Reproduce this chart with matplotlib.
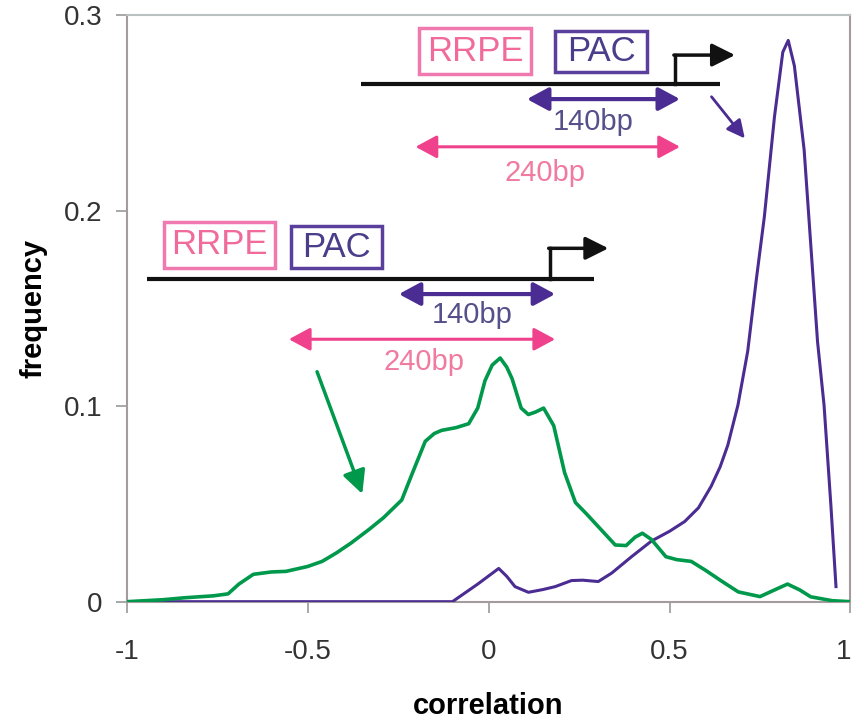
import matplotlib
matplotlib.use('Agg')
from matplotlib import pyplot as plt
from matplotlib.patches import Rectangle
from matplotlib.transforms import ScaledTranslation

plt.rcParams['font.family'] = ['Liberation Sans', 'DejaVu Sans']

# distribution of correlation values
green_x = [-1.0, -0.9, -0.84, -0.76, -0.72, -0.69, -0.65, -0.6, -0.56, -0.5,
           -0.46, -0.42, -0.38, -0.33, -0.29, -0.24, -0.21, -0.175, -0.15, -0.13,
           -0.09, -0.055, -0.03, -0.01, 0.01, 0.032, 0.05, 0.065, 0.09, 0.11,
           0.13, 0.152, 0.18, 0.21, 0.24, 0.27, 0.3, 0.35, 0.38, 0.405,
           0.425, 0.45, 0.49, 0.52, 0.56, 0.6, 0.64, 0.69, 0.75, 0.79,
           0.826, 0.86, 0.89, 0.95, 1.0]
green_y = [0.0, 0.001, 0.002, 0.003, 0.004, 0.009, 0.014, 0.0152, 0.0155, 0.018,
           0.0206, 0.025, 0.030, 0.037, 0.043, 0.052, 0.066, 0.082, 0.086, 0.0876,
           0.089, 0.091, 0.099, 0.113, 0.121, 0.1246, 0.120, 0.114, 0.099, 0.0957,
           0.097, 0.099, 0.090, 0.066, 0.0507, 0.045, 0.039, 0.029, 0.0287, 0.033,
           0.035, 0.0318, 0.023, 0.0215, 0.0206, 0.016, 0.011, 0.005, 0.0026, 0.006,
           0.009, 0.006, 0.0025, 0.0005, 0.0]

purple_x = [-1.0, -0.1, -0.03, 0.028, 0.05, 0.073, 0.11, 0.15, 0.184, 0.229,
            0.26, 0.303, 0.34, 0.395, 0.45, 0.5, 0.542, 0.58, 0.615, 0.64,
            0.661, 0.689, 0.716, 0.74, 0.762, 0.79, 0.813, 0.828, 0.845, 0.872,
            0.909, 0.927, 0.946, 0.96]
purple_y = [0.0, 0.0, 0.009, 0.017, 0.013, 0.0077, 0.0048, 0.0062, 0.0077, 0.0108,
            0.011, 0.0103, 0.0146, 0.023, 0.031, 0.036, 0.041, 0.048, 0.059, 0.069,
            0.080, 0.1005, 0.128, 0.165, 0.1968, 0.248, 0.281, 0.287, 0.274, 0.231,
            0.133, 0.1005, 0.049, 0.0077]

x_ticks = [-1, -0.5, 0, 0.5, 1]
x_labels = ['-1', '-0.5', '0', '0.5', '1']
y_ticks = [0, 0.1, 0.2, 0.3]
y_labels = ['0', '0.1', '0.2', '0.3']

GREEN = '#00994c'
PURPLE = '#4b2c92'
PINK = '#f0428c'

fig = plt.figure(figsize=(8.55, 7.18), dpi=100)
ax = fig.add_axes([0.1482, 0.162, 0.8465, 0.8171])

ax.plot(purple_x, purple_y, color=PURPLE, lw=2.2, zorder=3)
ax.plot(green_x, green_y, color=GREEN, lw=2.6, zorder=4)

ax.set_xlim(-1, 1)
ax.set_ylim(0, 0.3)
ax.set_xticks(x_ticks)
ax.set_xticklabels(x_labels)
ax.set_yticks(y_ticks)
ax.set_yticklabels(y_labels)
ax.tick_params(direction='out', length=8, width=1.2, color='#999999',
               labelcolor='#333333', labelsize=20)
ax.tick_params(axis='x', pad=19)
ax.tick_params(axis='y', pad=9.5)
# last label sits on the figure edge, nudge it in a little
last = ax.get_xticklabels()[-1]
last.set_transform(last.get_transform() + ScaledTranslation(-5 / 72, 0, fig.dpi_scale_trans))
for s in ax.spines.values():
    s.set_color('#a49c9c')
    s.set_linewidth(1.5)
ax.spines['top'].set_color('#b8c0c0')

ax.set_xlabel('correlation', fontsize=21, fontweight='bold')
ax.set_ylabel('frequency', fontsize=21, fontweight='bold')
ax.xaxis.set_label_coords(0.5, -0.1534)
ax.yaxis.set_label_coords(-0.110, 0.5)


def promoter(x0, x1, y, xv, ytop, xtip):
    # black line with the transcription start arrow
    ax.plot([x0, x1], [y, y], color='#111111', lw=3, solid_capstyle='butt', zorder=5)
    ax.plot([xv, xv], [y, ytop], color='#111111', lw=2.5, zorder=5)
    ax.annotate('', xy=(xtip, ytop), xytext=(xv - 0.004, ytop),
                arrowprops=dict(arrowstyle='-|>,head_width=0.35,head_length=0.7',
                                mutation_scale=20, color='#111111', lw=2.5,
                                shrinkA=0, shrinkB=0), zorder=5)


def box(x0, x1, y0, y1, text, edge, tcolor):
    ax.add_patch(Rectangle((x0, y0), x1 - x0, y1 - y0, fill=False,
                           ec=edge, lw=2.5, zorder=5))
    ax.text((x0 + x1) / 2, (y0 + y1) / 2, text, color=tcolor, fontsize=25,
            ha='center', va='center', zorder=5)


def span(x0, x1, y, color, lw, label, lx, ly, lcolor):
    ax.annotate('', xy=(x1, y), xytext=(x0, y),
                arrowprops=dict(arrowstyle='<|-|>,head_width=0.35,head_length=0.65',
                                mutation_scale=20, color=color, lw=lw,
                                shrinkA=0, shrinkB=0), zorder=5)
    ax.text(lx, ly, label, color=lcolor, fontsize=21, ha='center', va='center', zorder=5)


# upper construct
promoter(-0.353, 0.640, 0.2647, 0.516, 0.2795, 0.681)
box(-0.191, 0.117, 0.2698, 0.2932, 'RRPE', '#f07ab0', '#f06a9a')
box(0.184, 0.439, 0.2710, 0.2919, 'PAC', '#5b3f9c', '#4a3d8a')
span(0.106, 0.529, 0.2570, PURPLE, 3, '140bp', 0.290, 0.2454, '#55508a')
span(-0.202, 0.529, 0.2326, PINK, 2.2, '240bp', 0.156, 0.2190, '#f07aa0')
ax.annotate('', xy=(0.708, 0.2369), xytext=(0.616, 0.2582),
            arrowprops=dict(arrowstyle='-|>,head_width=0.3,head_length=0.6',
                            mutation_scale=18, color=PURPLE, lw=2,
                            shrinkA=0, shrinkB=0), zorder=5)

# lower construct
promoter(-0.943, 0.290, 0.1648, 0.170, 0.1807, 0.331)
box(-0.898, -0.590, 0.1705, 0.1943, 'RRPE', '#f07ab0', '#f06a9a')
box(-0.547, -0.294, 0.1705, 0.1921, 'PAC', '#5b3f9c', '#4a3d8a')
span(-0.248, 0.184, 0.1573, PURPLE, 3, '140bp', -0.046, 0.1466, '#55508a')
span(-0.552, 0.184, 0.1342, PINK, 2.2, '240bp', -0.179, 0.1225, '#f07aa0')
ax.annotate('', xy=(-0.349, 0.0551), xytext=(-0.474, 0.1176),
            arrowprops=dict(arrowstyle='-|>,head_width=0.35,head_length=0.7',
                            mutation_scale=20, color=GREEN, lw=2.5,
                            shrinkA=0, shrinkB=0), zorder=5)

fig.savefig('out.png', dpi=100)
